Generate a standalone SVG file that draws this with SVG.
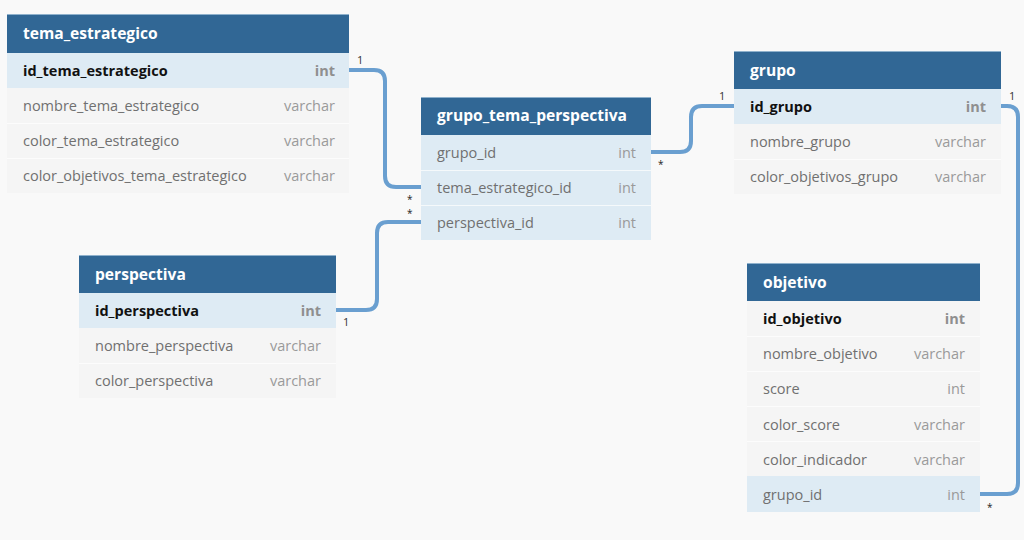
<svg xmlns="http://www.w3.org/2000/svg" width="1024" height="540" viewBox="0 0 1024 540">
<style>
.bg{fill:#f9f9f9}
.hd{fill:#316795}
.hdl{stroke:#8fb1cc;stroke-width:1}
.r{fill:#f5f5f5}
.rk{fill:#deebf4}
.sep{stroke:#ffffff;stroke-width:1;opacity:0.7}
.t{font-family:"Open Sans","Noto Sans",sans-serif;font-size:15.6px;font-weight:bold;fill:#ffffff}
.f{font-family:"Open Sans","Noto Sans",sans-serif;font-size:14.5px;fill:#707070}
.fk{font-family:"Open Sans","Noto Sans",sans-serif;font-size:14.5px;font-weight:bold;fill:#111111}
.ty{font-family:"Open Sans","Noto Sans",sans-serif;font-size:14.5px;fill:#9a9a9a;text-anchor:end}
.tyk{font-family:"Open Sans","Noto Sans",sans-serif;font-size:14.5px;font-weight:bold;fill:#8f8f8f;text-anchor:end}
.c{fill:none;stroke:#6a9fd0;stroke-width:4;stroke-linejoin:round}
.lb{font-family:"Open Sans","Noto Sans",sans-serif;font-size:11px;fill:#333333}
.st{font-family:"Open Sans","Noto Sans",sans-serif;font-size:10px;fill:#222222}
</style>
<rect class="bg" x="0" y="0" width="1024" height="540"/>

<g id="connectors">
<path class="c" d="M349 70 H374 Q385 70 385 81 V176 Q385 187 396 187 H421"/>
<path class="c" d="M336 310 H366 Q377 310 377 299 V233 Q377 222 388 222 H421"/>
<path class="c" d="M651 152 H680 Q691 152 691 141 V117 Q691 106 702 106 H734"/>
<path class="c" d="M1001 106 H1007 Q1018 106 1018 117 V483 Q1018 494 1007 494 H980"/>
<text class="lb" x="357" y="64">1</text>
<text class="st" x="407" y="203">*</text>
<text class="st" x="407" y="217">*</text>
<text class="lb" x="343" y="326">1</text>
<text class="st" x="658" y="168">*</text>
<text class="lb" x="719" y="100">1</text>
<text class="lb" x="1009" y="100">1</text>
<text class="st" x="987" y="511">*</text>
</g>

<g id="tema_estrategico">
<rect class="hd" x="7" y="14" width="342" height="39"/>
<line class="hdl" x1="7" y1="14.5" x2="349" y2="14.5"/>
<text class="t" x="23" y="38.5">tema_estrategico</text>
<rect class="rk" x="7" y="53" width="342" height="35"/>
<rect class="r" x="7" y="88" width="342" height="105"/>
<line class="sep" x1="7" y1="123.5" x2="349" y2="123.5"/>
<line class="sep" x1="7" y1="158.5" x2="349" y2="158.5"/>
<text class="fk" x="23" y="75.5">id_tema_estrategico</text><text class="tyk" x="335" y="75.5">int</text>
<text class="f" x="23" y="110.5">nombre_tema_estrategico</text><text class="ty" x="335" y="110.5">varchar</text>
<text class="f" x="23" y="145.5">color_tema_estrategico</text><text class="ty" x="335" y="145.5">varchar</text>
<text class="f" x="23" y="180.5">color_objetivos_tema_estrategico</text><text class="ty" x="335" y="180.5">varchar</text>
</g>

<g id="grupo_tema_perspectiva">
<rect class="hd" x="421" y="97" width="230" height="38"/>
<line class="hdl" x1="421" y1="97.5" x2="651" y2="97.5"/>
<text class="t" x="437" y="121">grupo_tema_perspectiva</text>
<rect class="rk" x="421" y="135" width="230" height="105"/>
<line class="sep" x1="421" y1="170.5" x2="651" y2="170.5"/>
<line class="sep" x1="421" y1="205.5" x2="651" y2="205.5"/>
<text class="f" x="437" y="157.5">grupo_id</text><text class="ty" x="636" y="157.5">int</text>
<text class="f" x="437" y="192.5">tema_estrategico_id</text><text class="ty" x="636" y="192.5">int</text>
<text class="f" x="437" y="227.5">perspectiva_id</text><text class="ty" x="636" y="227.5">int</text>
</g>

<g id="grupo">
<rect class="hd" x="734" y="51" width="267" height="38"/>
<line class="hdl" x1="734" y1="51.5" x2="1001" y2="51.5"/>
<text class="t" x="750" y="75.5">grupo</text>
<rect class="rk" x="734" y="89" width="267" height="35"/>
<rect class="r" x="734" y="124" width="267" height="70"/>
<line class="sep" x1="734" y1="159.5" x2="1001" y2="159.5"/>
<text class="fk" x="750" y="111.5">id_grupo</text><text class="tyk" x="986" y="111.5">int</text>
<text class="f" x="750" y="146.5">nombre_grupo</text><text class="ty" x="986" y="146.5">varchar</text>
<text class="f" x="750" y="181.5">color_objetivos_grupo</text><text class="ty" x="986" y="181.5">varchar</text>
</g>

<g id="perspectiva">
<rect class="hd" x="79" y="255" width="257" height="38"/>
<line class="hdl" x1="79" y1="255.5" x2="336" y2="255.5"/>
<text class="t" x="95" y="279.5">perspectiva</text>
<rect class="rk" x="79" y="293" width="257" height="35"/>
<rect class="r" x="79" y="328" width="257" height="70"/>
<line class="sep" x1="79" y1="363.5" x2="336" y2="363.5"/>
<text class="fk" x="95" y="315.5">id_perspectiva</text><text class="tyk" x="321" y="315.5">int</text>
<text class="f" x="95" y="350.5">nombre_perspectiva</text><text class="ty" x="321" y="350.5">varchar</text>
<text class="f" x="95" y="385.5">color_perspectiva</text><text class="ty" x="321" y="385.5">varchar</text>
</g>

<g id="objetivo">
<rect class="hd" x="747" y="263" width="233" height="38"/>
<line class="hdl" x1="747" y1="263.5" x2="980" y2="263.5"/>
<text class="t" x="763" y="287.5">objetivo</text>
<rect class="r" x="747" y="301" width="233" height="175"/>
<line class="sep" x1="747" y1="336.5" x2="980" y2="336.5"/>
<line class="sep" x1="747" y1="371.5" x2="980" y2="371.5"/>
<line class="sep" x1="747" y1="406.5" x2="980" y2="406.5"/>
<line class="sep" x1="747" y1="441.5" x2="980" y2="441.5"/>
<rect class="rk" x="747" y="476" width="233" height="36"/>
<text class="fk" x="763" y="323.5">id_objetivo</text><text class="tyk" x="965" y="323.5">int</text>
<text class="f" x="763" y="358.5">nombre_objetivo</text><text class="ty" x="965" y="358.5">varchar</text>
<text class="f" x="763" y="393.5">score</text><text class="ty" x="965" y="393.5">int</text>
<text class="f" x="763" y="429.5">color_score</text><text class="ty" x="965" y="429.5">varchar</text>
<text class="f" x="763" y="464.5">color_indicador</text><text class="ty" x="965" y="464.5">varchar</text>
<text class="f" x="763" y="499.5">grupo_id</text><text class="ty" x="965" y="499.5">int</text>
</g>
</svg>
